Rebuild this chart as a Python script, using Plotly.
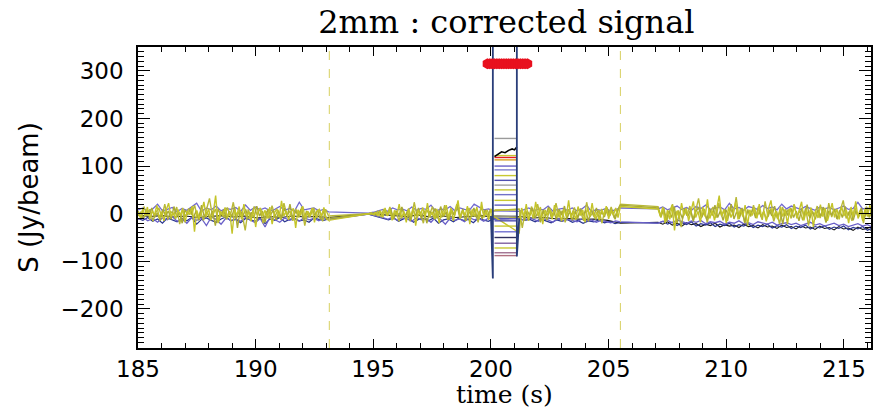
import numpy as np
import plotly.graph_objects as go

# ---------------- data ----------------
seg_bounds = [(185.0, 193.1), (194.8, 200.1), (201.2, 205.5), (207.1, 216.2)]

# main yellow detector
y1_a = [3,-8,10,-5,14,-12,6,-3,18,-9,4,-15,8,22,-6,2,-11,9,-4,12,-18,5,-2,16,-38,7,-10,3,25,-7,11,-14,2,38,-20,6,-5,13,-9,4,-42,8,-3,15,-12,20,-6,3,-16,9,-28,5,12,-4,7,-10,14,-22,2,10,-8,27,-5,6,-13,3,11,-30,8,-4,16,-9,5,-7,12,-18,4,9,-6,13,-11,-14]
y1_b = [0,1,-2,3,-4,6,-8,12,-5,9,-14,7,-3,20,-10,5,-18,11,-6,15,-25,8,-4,13,-9,22,-7,4,-12,10,-20,6,-3,18,-8,12,-15,5,28,-10,7,-4,16,-22,9,-6,14,-11,25,-8,6,-13,10,-5]
y1_c = [-40,12,-8,20,-15,6,-10,25,-5,14,-22,8,-3,11,-12,18,-7,4,-16,9,-6,28,-10,5,-13,15,-4,8,-18,12,-6,22,-9,3,-14,10,-5,16,-11,7,-3,12,-8,15]
y1_d = [10,-6,14,-20,8,-12,18,-35,6,-9,22,-4,12,-15,9,26,-8,5,-18,14,-6,30,-10,7,-14,11,38,-5,9,-20,15,-8,4,24,-12,10,-6,18,-25,8,-4,13,-10,20,-7,6,-16,12,28,-9,5,-12,15,-6,9,-22,11,-4,17,-10,6,25,-14,8,-5,13,-28,7,-9,19,-6,12,-15,4,22,-8,10,-12,16,-5,8,-20,14,-7,26,-10,5,-15,11,-6,18,-9]

# second yellow detector
y2_a = [-5,4,-10,7,-3,12,-8,2,-15,9,-4,6,-12,15,-6,3,-20,8,-2,11,-9,5,-14,18,-7,4,-10,6,-25,10,-3,8,-12,5,-6,14,-30,7,-4,9,-11,3,-8,16,-5,6,-18,10,-2,7,-13,4,-9,12,-6,20,-10,5,-3,9,-15,6,-7,11,-4,8,-12,5,-8,-10]
y2_b = [0,-1,2,-3,5,-6,8,-4,10,-12,6,-3,14,-8,4,-16,9,-5,12,-10,7,-20,5,-2,11,-9,15,-6,3,-13,8,-4,18,-7,10,-15,6,-3,12,-9,5,-11,8,-6,10,-4]
y2_c = [-8,10,-15,6,-4,12,-9,3,-18,8,-5,14,-7,4,-12,9,-3,16,-10,6,-14,5,-8,11,-4,7,-16,9,-6,12,-10,4,-7,13,-5,8,-12,6,18]
y2_d = [12,-5,9,-14,6,-8,15,-20,4,-10,11,-6,8,-16,5,13,-9,3,-12,10,-4,18,-8,6,-14,9,-5,20,-11,4,-7,12,-18,6,-3,10,-9,15,-6,4,-13,8,-5,16,-10,7,-22,9,-4,12,-8,5,-15,11,-6,19,-9,4,-12,8,-5,14,-18,6,-3,10,-11,7,-8,15,-5,9,-14,6,-7,12,-10,4,-6,8]

# third yellow detector
y3_a = [6,-10,15,-4,9,-16,3,12,-7,20,-12,5,-3,14,-22,8,-6,11,-2,18,-9,4,-14,7,32,-5,10,-18,3,-8,13,-4,24,-11,6,-2,-35,9,-7,15,-3,11,-20,5,-10,17,-6,8,-13,22,-4,6,-15,10,-8,14,-25,5,-3,12,-9,7,-16,9,-5]
y3_b = [0,2,-3,5,-7,10,-4,14,-9,6,-16,12,-5,8,-12,24,-7,4,-20,10,-3,15,-11,6,-8,18,-13,5,-2,20,-10,7,-15,12,-6,9,-18,14,-4,8,-10,6]
y3_c = [10,-30,7,-12,15,-6,20,-9,4,-14,11,-5,22,-8,6,-18,9,-3,13,-10,5,-15,24,-7,3,-12,8,-20,10,-4,14,-9,6,20]
y3_d = [15,-8,12,-16,5,20,-10,7,-28,9,-4,16,-12,6,32,-7,10,-18,4,14,-9,22,-5,8,-15,12,-3,35,-11,6,-20,9,-6,18,-8,4,-13,26,-7,11,-16,5,-22,14,-4,9,-10,20,-6,7,-14,12,-25,8,-3,16,-9,5,-18,22,-7,10,-12,6,28,-10,4,-15,13,-5,9,-20,15,-8,11]

# purple detector, upper side of the band
p1_a = [8,12,5,10,20,6,9,13,4,11,7,14,22,5,12,8,16,6,11,9,13,5,18,7,14,8,12,6,9,15,7,11,5,24,8,10,12,6,9,4]
p1_b = [1,3,6,9,5,12,8,10,6,14,7,11,9,18,5,10,8,15,6,12,9,7,20,14,8,10,6]
p1_c = [5,9,12,6,10,8,16,5,9,11,7,12,6,10,18,4,9,7,11,5,8,12]
p1_d = [10,14,8,12,16,9,13,7,15,11,18,9,12,14,8,22,10,13,7,15,12,9,17,11,14,8,20,10,16,12,9,15,11,7,14,10,13,8,12,16,9,11,24,10,12,8]

# purple detector, lower side of the band
p2_a = [-12,-8,-15,-10,-18,-9,-13,-6,-16,-11,-20,-8,-14,-10,-25,-7,-12,-22,-9,-14,-11,-16,-8,-13,-19,-10,-28,-7,-12,-18,-9,-14,-11,-16,-8,-13,-10,-15,-9,-12]
p2_b = [-1,-3,-5,-8,-12,-7,-14,-9,-11,-16,-8,-13,-10,-18,-7,-12,-22,-9,-14,-11,-17,-8,-13,-10,-16,-9,-12]
p2_c = [-10,-14,-9,-12,-16,-11,-13,-18,-10,-15,-12,-14,-17,-11,-15,-13,-18,-14,-16,-19,-15,-17]
p2_d = [-20,-16,-14,-19,-13,-17,-20,-15,-18,-14,-21,-17,-19,-16,-22,-18,-20,-15,-21,-19,-23,-17,-20,-22,-18,-24,-21,-19,-23,-20,-25,-22,-18,-24,-21,-26,-23,-20,-25,-22,-27,-24,-21,-26,-23,-28]

# navy drifting detector
n1_a = [-10,-14,-8,-16,-11,-20,-9,-13,-17,-10,-15,-8,-22,-12,-9,-14,-18,-11,-7,-15,-12,-19,-10,-13,-16,-9,-21,-11,-14,-8,-17,-12,-10,-15,-13,-18,-9,-12,-14,-11]
n1_b = [-1,-4,-7,-10,-13,-9,-16,-11,-8,-18,-12,-10,-15,-9,-20,-13,-11,-17,-10,-14,-12,-19,-9,-13,-16,-11]
n1_c = [-10,-14,-12,-17,-11,-15,-19,-13,-16,-12,-18,-14,-20,-15,-17,-13,-19,-16,-21,-18]
n1_d = [-20,-16,-22,-18,-25,-19,-23,-17,-26,-21,-24,-19,-27,-22,-25,-20,-28,-23,-26,-21,-29,-24,-27,-22,-30,-25,-28,-23,-31,-26,-29,-24,-32,-27,-30,-25,-33,-28,-31,-26,-34,-29,-32,-27,-35,-30]

# black drifting detector
k1_a = [-3,-6,-4,-7,-5,-8,-6,-4,-7,-5,-9,-6,-8,-5,-7,-6,-8]
k1_b = [0,-2,-4,-6,-3,-7,-5,-8,-6,-4,-7]
k1_c = [-6,-9,-8,-11,-10,-12,-11,-14,-20]
k1_d = [-18,-22,-17,-24,-20,-26,-19,-23,-21,-27,-22,-25,-20,-28,-23,-26,-24,-29,-22,-27,-25,-30,-23,-28,-26,-31,-24,-29,-27,-32,-25,-30,-28,-33,-26,-31,-29,-34,-27,-32,-30,-35,-28,-33,-31,-36]

# plateau levels of the detectors while on the source
src_t = (200.15, 201.1)
src_levels = [158, 122, 118, 113, 100, 92, 80, 70, 60, 50, 40, 28, 18, 8, -5, -15, -26, -38, -50, -62, -72, -82, -88]
src_colors = ["#9a9a9a", "#c8c832", "#e51c23", "#d8a020", "#6a60c8", "#8080d0", "#c8c832",
              "#5050b0", "#a0a0a0", "#c8c832", "#7070c8", "#c8c832", "#6060c0", "#b8b830",
              "#909090", "#5050b0", "#c8c832", "#7070d0", "#303060", "#8060a0", "#c8c832",
              "#a07090", "#b07080"]
# black wiggly plateau
blk_src_t = [200.15, 200.3, 200.45, 200.6, 200.75, 200.9, 201.0, 201.1]
blk_src_y = [120, 126, 130, 128, 133, 136, 134, 140]

# detector going off-scale during the source crossing
box_t = [200.0, 200.08, 200.08, 201.1, 201.1, 201.2]
box_y = [-5, -136, 700, 700, -90, -10]

# red source marker
mark_t = [199.85, 199.95, 200.05, 200.15, 200.25, 200.35, 200.45, 200.55, 200.65, 200.75,
          200.85, 200.95, 201.05, 201.15, 201.25, 201.35, 201.45, 201.55]
mark_y = [315] * len(mark_t)

flag_times = [193.13, 205.5]

# ---------------- figure ----------------
def build(series):
    xs, ys = [], []
    for (t0, t1), vals in zip(seg_bounds, series):
        xs.extend(np.linspace(t0, t1, len(vals)).tolist())
        ys.extend(vals)
    return xs, ys

fig = go.Figure()

def add_line(series, color, width=1.0):
    xs, ys = build(series)
    fig.add_trace(go.Scatter(x=xs, y=ys, mode="lines",
                             line=dict(color=color, width=width), hoverinfo="skip"))

add_line([k1_a, k1_b, k1_c, k1_d], "#151515", 1.1)
add_line([n1_a, n1_b, n1_c, n1_d], "#2a3590", 1.2)
add_line([p2_a, p2_b, p2_c, p2_d], "#6a60c8", 1.3)
add_line([p1_a, p1_b, p1_c, p1_d], "#7068d0", 1.3)
add_line([y3_a, y3_b, y3_c, y3_d], "#b8b838", 1.4)
add_line([y2_a, y2_b, y2_c, y2_d], "#a9a935", 1.4)
add_line([y1_a, y1_b, y1_c, y1_d], "#c4c42a", 1.4)

for lev, col in zip(src_levels, src_colors):
    fig.add_trace(go.Scatter(x=list(src_t), y=[lev, lev], mode="lines",
                             line=dict(color=col, width=1.4), hoverinfo="skip"))
fig.add_trace(go.Scatter(x=blk_src_t, y=blk_src_y, mode="lines",
                         line=dict(color="#000000", width=1.6), hoverinfo="skip"))
fig.add_trace(go.Scatter(x=box_t, y=box_y, mode="lines",
                         line=dict(color="#2a3e7a", width=1.8), hoverinfo="skip"))
fig.add_trace(go.Scatter(x=mark_t, y=mark_y, mode="markers",
                         marker=dict(symbol="hexagon", size=11, color="#e8101e",
                                     line=dict(width=0)), hoverinfo="skip"))

for ft in flag_times:
    fig.add_shape(type="line", xref="x", yref="paper", x0=ft, x1=ft, y0=0, y1=1,
                  line=dict(color="#d8d060", width=1, dash="dash"))

fig.add_annotation(text="time (s)", xref="paper", yref="paper", x=0.5, y=-0.155,
                   xanchor="center", yanchor="middle", showarrow=False,
                   font=dict(family="DejaVu Serif", size=25, color="black"))

axis_common = dict(showline=True, linecolor="black", linewidth=1.6, mirror="ticks",
                   ticks="inside", tickcolor="black", showgrid=False, zeroline=False,
                   tickfont=dict(family="DejaVu Sans", size=23, color="black"))

fig.update_layout(
    width=876, height=408,
    margin=dict(l=138, r=3, t=47, b=60),
    paper_bgcolor="white", plot_bgcolor="white",
    showlegend=False,
    title=dict(text="2mm : corrected signal", x=0.578, xanchor="center",
               y=1 - 22 / 408, yanchor="middle", yref="container",
               font=dict(family="DejaVu Serif", size=32, color="black")),
    xaxis=dict(range=[185, 216.15], tickmode="linear", tick0=185, dtick=5,
               ticklen=9, tickwidth=1.2,
               minor=dict(dtick=1, ticklen=5, ticks="inside", tickcolor="black", tickwidth=1),
               ticklabelstandoff=0, **axis_common),
    yaxis=dict(range=[-282, 350], tickmode="linear", tick0=-200, dtick=100,
               ticklen=12, tickwidth=1.2,
               minor=dict(dtick=10, ticklen=6, ticks="inside", tickcolor="black", tickwidth=1),
               title=dict(text="S (Jy/beam)", standoff=14,
                          font=dict(family="DejaVu Sans", size=26, color="black")),
               ticklabelstandoff=8, **axis_common),
)

fig.write_html("out.html")
